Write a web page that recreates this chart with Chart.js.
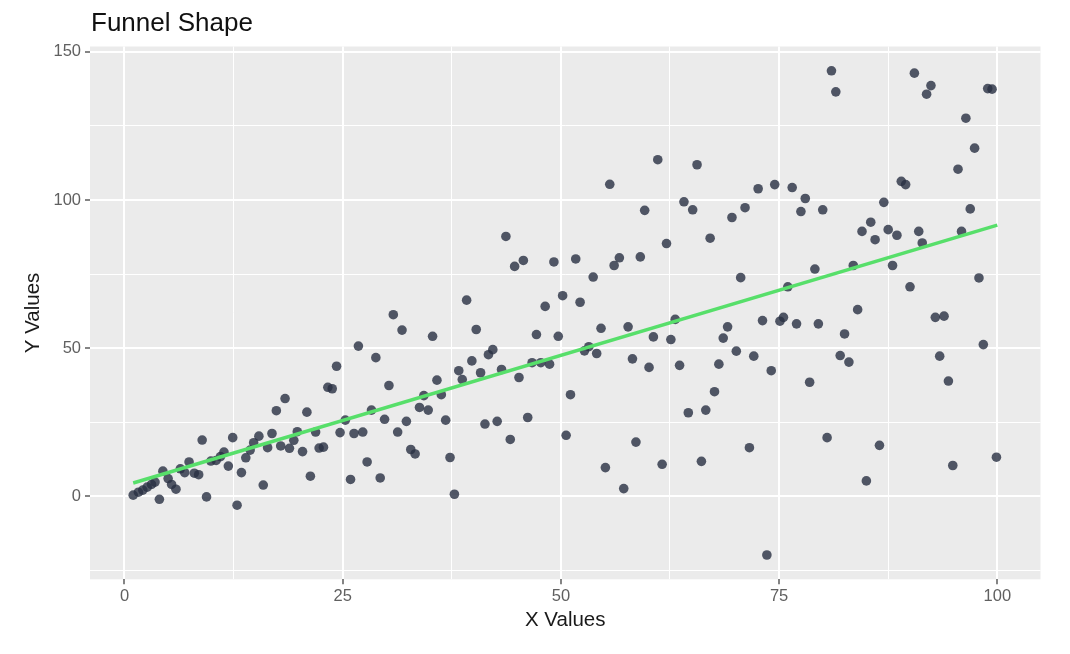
<!DOCTYPE html>
<html>
<head>
<meta charset="utf-8">
<title>Funnel Shape</title>
<script src="https://cdn.jsdelivr.net/npm/chart.js@4.4.1/dist/chart.umd.min.js"></script>
<style>
  html, body { margin: 0; padding: 0; background: #fff; }
  #wrap { position: relative; width: 1070px; height: 654px; }
  #title {
    position: absolute; left: 91px; top: 9px;
    font-family: "Liberation Sans", Arial, Helvetica, sans-serif;
    font-size: 26px; line-height: 26px; color: #111;
  }
</style>
</head>
<body>
<div id="wrap">
  <canvas id="chart" width="1070" height="654"></canvas>
  <div id="title">Funnel Shape</div>
</div>
<script>
// Scatter data
const xValues = [
  1.0, 1.6, 2.1, 2.6, 3.1, 3.5, 4.0, 4.4, 5.0, 5.4,
  5.9, 6.4, 6.9, 7.4, 8.0, 8.5, 8.9, 9.4, 9.9, 10.5,
  11.0, 11.4, 11.9, 12.4, 12.9, 13.4, 13.9, 14.4, 14.8, 15.4,
  15.9, 16.4, 16.9, 17.4, 17.9, 18.4, 18.9, 19.4, 19.8, 20.4,
  20.9, 21.3, 21.9, 22.3, 22.8, 23.3, 23.8, 24.3, 24.7, 25.3,
  25.9, 26.3, 26.8, 27.3, 27.8, 28.3, 28.8, 29.3, 29.8, 30.3,
  30.8, 31.3, 31.8, 32.3, 32.8, 33.3, 33.8, 34.3, 34.8, 35.3,
  35.8, 36.3, 36.8, 37.3, 37.8, 38.3, 38.7, 39.2, 39.8, 40.3,
  40.8, 41.3, 41.7, 42.2, 42.7, 43.2, 43.7, 44.2, 44.7, 45.2,
  45.7, 46.2, 46.7, 47.2, 47.7, 48.2, 48.7, 49.2, 49.7, 50.2,
  50.6, 51.1, 51.7, 52.2, 52.7, 53.2, 53.7, 54.1, 54.6, 55.1,
  55.6, 56.1, 56.7, 57.2, 57.7, 58.2, 58.6, 59.1, 59.6, 60.1,
  60.6, 61.1, 61.6, 62.1, 62.6, 63.1, 63.6, 64.1, 64.6, 65.1,
  65.6, 66.1, 66.6, 67.1, 67.6, 68.1, 68.6, 69.1, 69.6, 70.1,
  70.6, 71.1, 71.6, 72.1, 72.6, 73.1, 73.6, 74.1, 74.5, 75.1,
  75.5, 76.0, 76.5, 77.0, 77.5, 78.0, 78.5, 79.1, 79.5, 80.0,
  80.5, 81.0, 81.5, 82.0, 82.5, 83.0, 83.5, 84.0, 84.5, 85.0,
  85.5, 86.0, 86.5, 87.0, 87.5, 88.0, 88.5, 89.0, 89.5, 90.0,
  90.5, 91.0, 91.4, 91.9, 92.4, 92.9, 93.4, 93.9, 94.4, 94.9,
  95.5, 95.9, 96.4, 96.9, 97.4, 97.9, 98.4, 98.9, 99.4, 99.9
];
const yValues = [
  0.4, 1.4, 2.1, 3.1, 4.0, 4.8, -1.0, 8.5, 6.0, 4.0,
  2.4, 9.3, 8.0, 11.6, 7.8, 7.3, 19.0, -0.2, 11.9, 12.1,
  13.4, 14.9, 10.2, 19.8, -3.0, 8.0, 13.0, 15.6, 18.1, 20.3,
  3.8, 16.4, 21.2, 28.9, 17.0, 33.0, 16.2, 18.9, 21.8, 15.1,
  28.4, 6.8, 21.7, 16.3, 16.6, 36.8, 36.3, 43.9, 21.5, 25.7,
  5.7, 21.2, 50.7, 21.7, 11.6, 29.1, 46.8, 6.2, 26.0, 37.4,
  61.3, 21.7, 56.1, 25.3, 15.8, 14.3, 30.0, 34.0, 29.1, 54.0,
  39.2, 34.3, 25.7, 13.1, 0.7, 42.4, 39.4, 66.2, 45.7, 56.3,
  41.7, 24.4, 47.8, 49.5, 25.3, 42.8, 87.7, 19.2, 77.6, 40.1,
  79.6, 26.6, 45.1, 54.6, 45.1, 64.1, 44.6, 79.1, 54.0, 67.7,
  20.6, 34.3, 80.1, 65.5, 49.1, 50.5, 74.0, 48.2, 56.7, 9.7,
  105.3, 77.9, 80.5, 2.6, 57.2, 46.4, 18.3, 80.8, 96.5, 43.5,
  53.8, 113.6, 10.8, 85.3, 52.9, 59.7, 44.2, 99.4, 28.2, 96.7,
  111.9, 11.8, 29.1, 87.1, 35.3, 44.6, 53.4, 57.2, 94.1, 49.0,
  73.8, 97.4, 16.4, 47.3, 103.8, 59.3, -19.8, 42.4, 105.2, 59.1,
  60.4, 70.7, 104.2, 58.2, 96.1, 100.5, 38.5, 76.7, 58.2, 96.7,
  19.8, 143.6, 136.5, 47.5, 54.8, 45.3, 77.9, 63.0, 89.4, 5.2,
  92.5, 86.6, 17.2, 99.2, 90.0, 77.9, 88.1, 106.3, 105.2, 70.7,
  142.8, 89.4, 85.5, 135.7, 138.6, 60.4, 47.3, 60.8, 38.9, 10.4,
  110.4, 89.4, 127.6, 97.0, 117.5, 73.7, 51.2, 137.6, 137.4, 13.2
];

// Linear fit line (end points)
const fitX = [1, 100];
const fitY = [4.5, 91.5];

// Axis breaks
const xMajor = [0, 25, 50, 75, 100];
const xMinor = [12.5, 37.5, 62.5, 87.5];
const yMajor = [0, 50, 100, 150];
const yMinor = [-25, 25, 75, 125];

const points = xValues.map((x, i) => ({ x, y: yValues[i] }));
const fitLine = fitX.map((x, i) => ({ x, y: fitY[i] }));

Chart.defaults.font.family = '"Liberation Sans", Arial, Helvetica, sans-serif';

// grey panel behind the plot, like ggplot
const panelBg = {
  id: 'panelBg',
  beforeDraw(chart) {
    const { ctx, chartArea: a } = chart;
    ctx.save();
    ctx.fillStyle = '#EBEBEB';
    ctx.fillRect(a.left, a.top, a.right - a.left, a.bottom - a.top);
    ctx.restore();
  }
};

function setTicks(major, minor) {
  return scale => {
    scale.ticks = major.concat(minor).sort((a, b) => a - b).map(v => ({ value: v }));
  };
}

function gridFor(major) {
  return {
    color: '#FFFFFF',
    lineWidth: c => major.includes(c.tick.value) ? 2 : 1,
    drawTicks: true,
    tickLength: 5,
    tickWidth: 1.2,
    tickColor: c => major.includes(c.tick.value) ? '#333333' : 'rgba(0,0,0,0)'
  };
}

const ctx = document.getElementById('chart').getContext('2d');
const chart = new Chart(ctx, {
  type: 'scatter',
  data: {
    datasets: [
      {
        type: 'line',
        data: fitLine,
        borderColor: '#57DF6A',
        borderWidth: 3.5,
        pointRadius: 0,
        fill: false,
        order: 0
      },
      {
        data: points,
        backgroundColor: 'rgba(40, 48, 66, 0.8)',
        borderWidth: 0,
        pointRadius: 4.8,
        pointHoverRadius: 4.8,
        order: 1
      }
    ]
  },
  options: {
    responsive: false,
    animation: false,
    layout: { padding: { top: 46.5, right: 29.5, bottom: 0, left: 0 } },
    plugins: {
      legend: { display: false },
      tooltip: { enabled: false }
    },
    scales: {
      x: {
        type: 'linear',
        min: -3.95,
        max: 104.95,
        afterBuildTicks: setTicks(xMajor, xMinor),
        afterFit: s => { s.height = 74.7; },
        grid: gridFor(xMajor),
        border: { display: false },
        ticks: {
          callback: v => xMajor.includes(v) ? String(v) : '',
          color: '#606060',
          font: { size: 16.5 },
          padding: 2,
          maxRotation: 0,
          autoSkip: false
        },
        title: {
          display: true,
          text: 'X Values',
          color: '#1a1a1a',
          font: { size: 20.5 },
          padding: { top: 0, bottom: 21.5 }
        }
      },
      y: {
        type: 'linear',
        min: -28,
        max: 151.8,
        afterBuildTicks: setTicks(yMajor, yMinor),
        afterFit: s => { s.width = 90; },
        grid: gridFor(yMajor),
        border: { display: false },
        ticks: {
          callback: v => yMajor.includes(v) ? String(v) : '',
          color: '#606060',
          font: { size: 16.5 },
          padding: 4,
          autoSkip: false
        },
        title: {
          display: true,
          text: 'Y Values',
          color: '#1a1a1a',
          font: { size: 20.5 },
          padding: { top: 21, bottom: 0 }
        }
      }
    }
  },
  plugins: [panelBg]
});
</script>
</body>
</html>
